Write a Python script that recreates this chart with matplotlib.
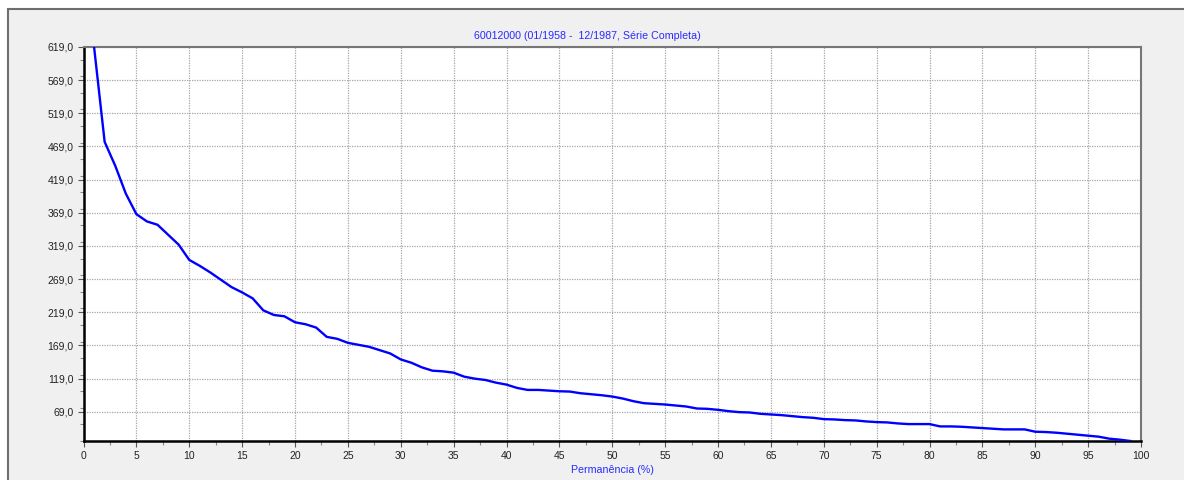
import numpy as np
import matplotlib
matplotlib.use("Agg")
import matplotlib.pyplot as plt
from matplotlib.patches import Rectangle
from matplotlib.ticker import MultipleLocator, FuncFormatter

plt.rcParams["font.family"] = ["Liberation Sans", "DejaVu Sans"]

title = "60012000 (01/1958 -  12/1987, Série Completa)"
xlabel = "Permanência (%)"

# permanence (%) and flow values
perm = np.arange(1, 100)
flow = np.array([
    619, 476, 440, 398, 367, 356, 351, 336, 321, 298,
    289, 279, 268, 257, 249, 240, 222, 215, 213, 204,
    201, 196, 182, 179, 173, 170, 167, 162, 157, 148,
    143, 136, 131, 130, 128, 122, 119, 117, 113, 110,
    105, 102, 102, 101, 100, 99.5, 97, 95.5, 94, 92,
    89, 85, 82, 81, 80, 78.5, 77, 74, 73.5, 72,
    70, 68.5, 68, 66, 65, 64, 62.5, 61, 60, 58,
    57.5, 56.5, 56, 54.5, 53.5, 53, 51.5, 50.5, 50.5, 50.5,
    47, 47, 46.5, 45.5, 44.5, 43.5, 42.5, 42.5, 42.5, 39,
    38.5, 37.5, 36, 34.5, 33, 31.5, 28.5, 27, 25,
])

W, H = 1184, 480
fig = plt.figure(figsize=(W / 100, H / 100), dpi=100, facecolor="white")

# grey panel behind the chart
fig.patches.append(Rectangle((8 / W, -0.2), 1.2, 1.2 - 9 / H, transform=fig.transFigure,
                             facecolor="#f0f0f0", edgecolor="#6e6e6e", linewidth=1.5, zorder=-10))

ax = fig.add_axes([83.5 / W, 1 - 441 / H, (1141 - 83.5) / W, (441 - 47) / H])
ax.set_facecolor("white")

ax.plot(perm, flow, color="#0000ff", linewidth=1.7, zorder=3)

ymin, ymax = flow.min(), flow.max()
ax.set_xlim(0, 100)
ax.set_ylim(ymin, ymax)
ax.set_yticks(np.arange(69, 620, 50))
ax.yaxis.set_minor_locator(MultipleLocator(25))
ax.xaxis.set_major_locator(MultipleLocator(5))
ax.xaxis.set_minor_locator(MultipleLocator(2.5))
ax.yaxis.set_major_formatter(FuncFormatter(lambda v, p: f"{v:.1f}".replace(".", ",")))

ax.grid(True, which="major", color="#a6a6a6", linestyle=(0, (1, 1)), linewidth=0.9)

for s in ["left", "bottom"]:
    ax.spines[s].set_color("black")
    ax.spines[s].set_linewidth(1.8)
for s in ["top", "right"]:
    ax.spines[s].set_color("#777777")
    ax.spines[s].set_linewidth(1.5)

ax.tick_params(which="major", length=4, width=0.8, color="#555555", labelsize=7.5, labelcolor="#222222", pad=3)
ax.tick_params(which="minor", length=3, width=0.8, color="#888888")

fig.text(587 / W, 1 - 36 / H, title, color="#2a2aff", fontsize=7.7, ha="center", va="center")
fig.text(612 / W, 1 - 470 / H, xlabel, color="#2a2aff", fontsize=7.7, ha="center", va="center")

fig.savefig("out.png", dpi=100, facecolor="white")
